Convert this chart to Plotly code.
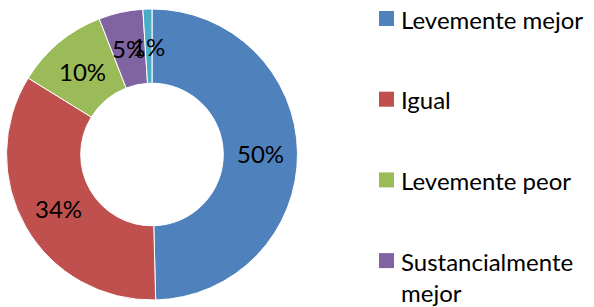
import math
import plotly.graph_objects as go

labels = ["Levemente mejor", "Igual", "Levemente peor", "Sustancialmente mejor", "Sustancialmente peor"]
values = [49.6, 34.2, 10.3, 4.9, 1.0]
colors = ["#4F81BD", "#C0504D", "#9BBB59", "#8064A2", "#4BACC6"]
# legend entries visible in the reference (the fifth one falls below the picture)
legend_text = ["Levemente mejor", "Igual", "Levemente peor", "Sustancialmente<br>mejor"]

W, H = 594, 307
FONT = "Lato"
FS = 24
HOLE = 0.49
dom_x = [6 / W, 298 / W]
dom_y = [1 - 300 / H, 1 - 9 / H]

fig = go.Figure(go.Pie(
    labels=labels, values=values, hole=HOLE, sort=False, direction="clockwise", rotation=0,
    marker=dict(colors=colors, line=dict(color="white", width=1)),
    textinfo="none", showlegend=False, hoverinfo="label+percent",
    domain=dict(x=dom_x, y=dom_y),
))

# percentage labels at the middle of the ring, at each slice's mid angle
cx = (dom_x[0] + dom_x[1]) / 2 * W
cy = (1 - (dom_y[0] + dom_y[1]) / 2) * H
R = min((dom_x[1] - dom_x[0]) * W, (dom_y[1] - dom_y[0]) * H) / 2
rm = R * (1 + HOLE) / 2
total = sum(values)
annotations = []
cum = 0.0
for v in values:
    mid = (cum + v / 2) / total * 2 * math.pi
    cum += v
    x = cx + rm * math.sin(mid)
    y = cy - rm * math.cos(mid)
    annotations.append(dict(xref="paper", yref="paper", x=x / W, y=1 - y / H,
                            xanchor="center", yanchor="middle", showarrow=False,
                            text=f"{round(v / total * 100)}%",
                            font=dict(family=FONT, size=FS, color="black")))

shapes = []
for i, (t, c) in enumerate(zip(legend_text, colors)):
    yc = 18.5 + i * 80.7
    shapes.append(dict(type="rect", xref="paper", yref="paper",
                       x0=379 / W, x1=394 / W, y0=1 - (yc - 7.5) / H, y1=1 - (yc + 7.5) / H,
                       fillcolor=c, line=dict(width=0)))
    annotations.append(dict(xref="paper", yref="paper", x=399 / W, y=1 - (yc - 16) / H,
                            xanchor="left", yanchor="top", align="left", showarrow=False,
                            text=t, font=dict(family=FONT, size=FS, color="black")))

fig.update_layout(
    width=W, height=H, margin=dict(l=0, r=0, t=0, b=0, autoexpand=False),
    paper_bgcolor="white", plot_bgcolor="white",
    shapes=shapes, annotations=annotations,
)
fig.write_html("out.html", config={"displayModeBar": False},
               post_script="document.body.style.margin='0';document.body.style.overflow='hidden';")
